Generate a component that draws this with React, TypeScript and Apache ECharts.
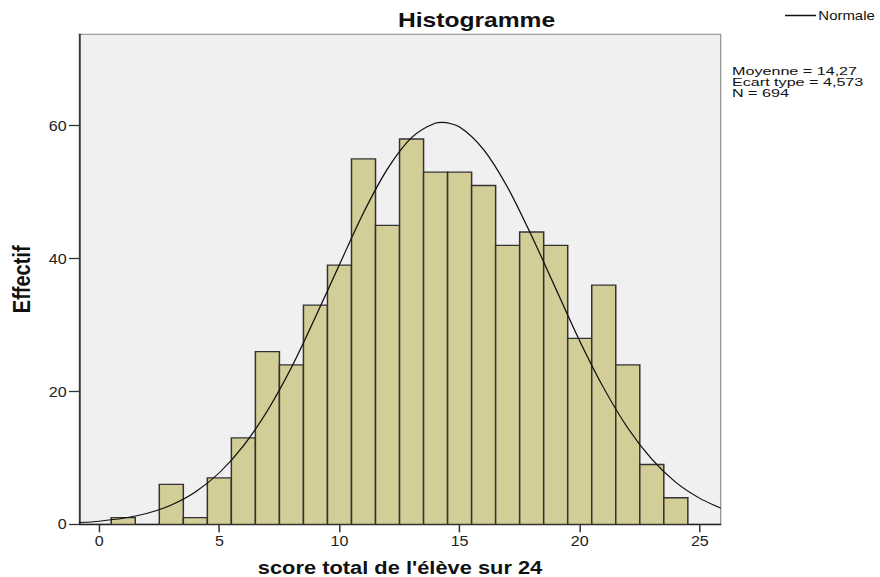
import React, { useEffect, useRef } from "react";
import * as echarts from "echarts";

// Histogram bins (centre of each unit-wide bin) and counts
const binCenters = [1, 2, 3, 4, 5, 6, 7, 8, 9, 10, 11, 12, 13, 14, 15, 16, 17, 18, 19, 20, 21, 22, 23, 24];
const counts = [1, 0, 6, 1, 7, 13, 26, 24, 33, 39, 55, 45, 58, 53, 53, 51, 42, 44, 42, 28, 36, 24, 9, 4];

// Normal curve
const curveX = [-0.83, 0, 1, 2, 3, 4, 5, 6, 7, 8, 9, 10, 11, 12, 13, 14, 14.27, 15, 16, 17, 18, 19, 20, 21, 22, 23, 24, 25, 25.87];
const curveY = [0.26, 0.47, 0.9, 1.65, 2.91, 4.87, 7.76, 11.8, 17.1, 23.6, 31.2, 39.1, 46.9, 53.5, 58.2, 60.4, 60.5, 59.8, 56.4, 50.7, 43.4, 35.5, 27.6, 20.5, 14.5, 9.8, 6.3, 3.9, 2.45];

const xTicks = [0, 5, 10, 15, 20, 25];
const yTicks = [0, 20, 40, 60];

const titleText = "Histogramme";
const xName = "score total de l'élève sur 24";
const yName = "Effectif";
const legendName = "Normale";
const statsLines = ["Moyenne = 14,27", "Ecart type = 4,573", "N = 694"];

const S = 1.15; // horizontal stretch of the original picture
const W = 880 / S;
const H = 577;
const FONT = "'Liberation Sans', Arial, sans-serif";

export default function App() {
  const ref = useRef<HTMLDivElement>(null);
  useEffect(() => {
    if (!ref.current) return;
    const chart = echarts.init(ref.current, undefined, { renderer: "svg" });
    const barData = binCenters.map((c, i) => [c, counts[i]]);
    const lineData = curveX.map((x, i) => [x, curveY[i]]);
    chart.setOption({
      animation: false,
      backgroundColor: "#ffffff",
      textStyle: { fontFamily: FONT },
      grid: {
        left: 79.3 / S,
        right: W - 721 / S,
        top: 34.3,
        bottom: H - 524.3,
        containLabel: false,
        outerBoundsMode: "none",
        show: true,
        backgroundColor: "#F0F0F0",
        borderColor: "#8a8a8a",
        borderWidth: 1,
      },
      legend: {
        data: [legendName],
        icon: "rect",
        left: 785 / S,
        top: 9,
        padding: 0,
        itemWidth: 27,
        itemHeight: 1.3,
        itemGap: 0,
        itemStyle: { color: "#111" },
        textStyle: { fontSize: 13, color: "#111", fontFamily: FONT, padding: [0, 0, 0, -3] },
      },
      xAxis: {
        type: "value",
        min: -0.83,
        max: 25.87,
        name: xName,
        nameLocation: "middle",
        nameGap: 33,
        nameTextStyle: { fontSize: 19, fontWeight: "bold", color: "#111", fontFamily: FONT },
        axisLine: { show: true, onZero: false, lineStyle: { color: "#222", width: 1.3 } },
        axisTick: { show: true, length: 8, customValues: xTicks, lineStyle: { color: "#333", width: 1.3 } },
        axisLabel: { customValues: xTicks, fontSize: 14, color: "#222", margin: 10, fontFamily: FONT },
        splitLine: { show: false },
      },
      yAxis: {
        type: "value",
        min: 0,
        max: 73.76,
        name: yName,
        nameLocation: "middle",
        nameGap: 40,
        nameTextStyle: { fontSize: 20, fontWeight: "bold", color: "#111", fontFamily: FONT },
        axisLine: { show: true, onZero: false, lineStyle: { color: "#222", width: 1.3 } },
        axisTick: { show: true, length: 9, customValues: yTicks, lineStyle: { color: "#333", width: 1.3 } },
        axisLabel: { customValues: yTicks, fontSize: 14, color: "#222", margin: 11, fontFamily: FONT },
        splitLine: { show: false },
      },
      graphic: [
        {
          type: "text",
          x: 476.5 / S,
          y: 20.5,
          scaleX: 1.07,
          style: {
            text: titleText,
            align: "center",
            verticalAlign: "middle",
            fontSize: 20,
            fontWeight: "bold",
            fontFamily: FONT,
            fill: "#111",
          },
        },
        ...statsLines.map((t, i) => ({
          type: "text",
          x: 732 / S,
          y: 70.5 + i * 11,
          scaleX: 1.22,
          style: {
            text: t,
            align: "left",
            verticalAlign: "middle",
            fontSize: 11.5,
            fontFamily: FONT,
            fill: "#111",
          },
        })),
      ],
      series: [
        {
          type: "custom",
          name: "bars",
          data: barData,
          renderItem: (params: any, api: any) => {
            const x = api.value(0);
            const y = api.value(1);
            if (!y) return null;
            const p0 = api.coord([x - 0.5, y]);
            const p1 = api.coord([x + 0.5, 0]);
            return {
              type: "rect",
              shape: { x: p0[0], y: p0[1], width: p1[0] - p0[0], height: p1[1] - p0[1] },
              style: { fill: "#D3CE97", stroke: "#333333", lineWidth: 1.3 },
            };
          },
          z: 2,
        },
        {
          type: "line",
          name: legendName,
          data: lineData,
          smooth: 0.3,
          symbol: "none",
          showSymbol: false,
          lineStyle: { color: "#111", width: 1.1 },
          itemStyle: { color: "#111" },
          z: 3,
        },
      ],
    });
    return () => chart.dispose();
  }, []);
  return (
    <div
      ref={ref}
      style={{
        position: "fixed",
        left: 0,
        top: 0,
        width: W,
        height: H,
        transform: `scaleX(${S})`,
        transformOrigin: "0 0",
        background: "#fff",
      }}
    />
  );
}
